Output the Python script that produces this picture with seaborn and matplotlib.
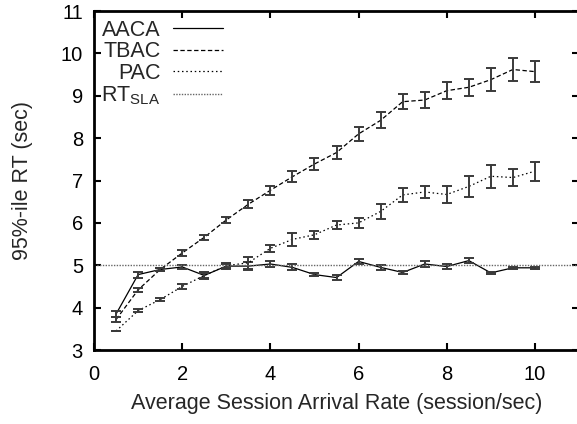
import numpy as np
import pandas as pd
import matplotlib
matplotlib.use("Agg")
import matplotlib.pyplot as plt
import seaborn as sns

# arrival rates (session/sec)
rate = [0.5, 1.0, 1.5, 2.0, 2.5, 3.0, 3.5, 4.0, 4.5, 5.0,
        5.5, 6.0, 6.5, 7.0, 7.5, 8.0, 8.5, 9.0, 9.5, 10.0]

# 95th percentile response times and error half-widths
aaca = [3.85, 4.78, 4.90, 4.96, 4.76, 4.98, 4.98, 5.03, 4.95, 4.78,
        4.71, 5.09, 4.95, 4.83, 5.03, 4.97, 5.11, 4.82, 4.94, 4.94]
aaca_err = [0.07, 0.07, 0.04, 0.05, 0.08, 0.07, 0.10, 0.07, 0.07, 0.03,
            0.05, 0.05, 0.05, 0.03, 0.06, 0.05, 0.06, 0.03, 0.03, 0.03]

tbac = [3.72, 4.42, 4.90, 5.29, 5.66, 6.07, 6.44, 6.77, 7.09, 7.39,
        7.66, 8.10, 8.42, 8.86, 8.90, 9.12, 9.20, 9.38, 9.62, 9.57]
tbac_err = [0.05, 0.05, 0.04, 0.06, 0.06, 0.08, 0.10, 0.10, 0.13, 0.14,
            0.15, 0.16, 0.19, 0.18, 0.19, 0.20, 0.20, 0.27, 0.27, 0.24]

pac = [3.45, 3.93, 4.19, 4.50, 4.76, 4.99, 5.06, 5.40, 5.61, 5.72,
       5.95, 6.00, 6.27, 6.66, 6.73, 6.67, 6.86, 7.10, 7.07, 7.22]
pac_err = [0.0, 0.04, 0.04, 0.05, 0.05, 0.05, 0.14, 0.08, 0.16, 0.10,
           0.10, 0.12, 0.17, 0.17, 0.15, 0.20, 0.24, 0.27, 0.20, 0.22]

rt_sla = 5.0

df = pd.DataFrame({"rate": rate, "AACA": aaca, "TBAC": tbac, "PAC": pac})

sns.set_theme(style="ticks")
plt.rcParams["font.family"] = ["Liberation Sans", "DejaVu Sans"]
plt.rcParams["mathtext.fontset"] = "custom"
plt.rcParams["mathtext.rm"] = "Liberation Sans"
plt.rcParams["mathtext.it"] = "Liberation Sans"

fig = plt.figure(figsize=(5.77, 4.24), dpi=100)
ax = fig.add_axes([0.163, 0.1745, 0.8405, 0.7995])

styles = {
    "AACA": ("-", aaca_err),
    "TBAC": ((0, (3.5, 2)), tbac_err),
    "PAC": ((0, (1.2, 2.2)), pac_err),
}
for name, (ls, err) in styles.items():
    sns.lineplot(data=df, x="rate", y=name, ax=ax, color="black",
                 linestyle=ls, linewidth=0.9, label=name, legend=False)
    ax.errorbar(df["rate"], df[name], yerr=err, fmt="none",
                ecolor="#3a3a3a", elinewidth=1.4, capsize=3.5,
                capthick=1.4)

sla = ax.axhline(rt_sla, color="#666666", linestyle=(0, (1, 1)),
                 linewidth=1.0)

lines = [l for l in ax.get_lines() if l.get_label() in ("AACA", "TBAC", "PAC")]
leg = ax.legend(lines + [sla], ["AACA", "TBAC", "PAC", r"RT$_{\rm SLA}$"],
                loc="upper left", bbox_to_anchor=(-0.012, 1.012),
                frameon=False, markerfirst=False, fontsize=15.5,
                handlelength=2.3, handletextpad=0.6, labelspacing=0.02,
                borderaxespad=0.2)

ax.set_xlim(0, 11)
ax.set_ylim(3, 11)
ax.set_xticks([0, 2, 4, 6, 8, 10])
ax.set_yticks(range(3, 12))
ax.tick_params(direction="in", length=5, width=1.5, labelsize=14.5,
               top=True, right=True, colors="black")
ax.tick_params(axis="x", pad=11)
ax.tick_params(axis="y", pad=8)
for s in ax.spines.values():
    s.set_linewidth(2)
    s.set_color("black")

ax.set_xlabel("Average Session Arrival Rate (session/sec)", fontsize=15.5)
ax.set_ylabel("95%-ile RT (sec)", fontsize=15.5)
ax.xaxis.set_label_coords(0.5, -0.128)
ax.yaxis.set_label_coords(-0.125, 0.5)

fig.savefig("out.png", dpi=100)
